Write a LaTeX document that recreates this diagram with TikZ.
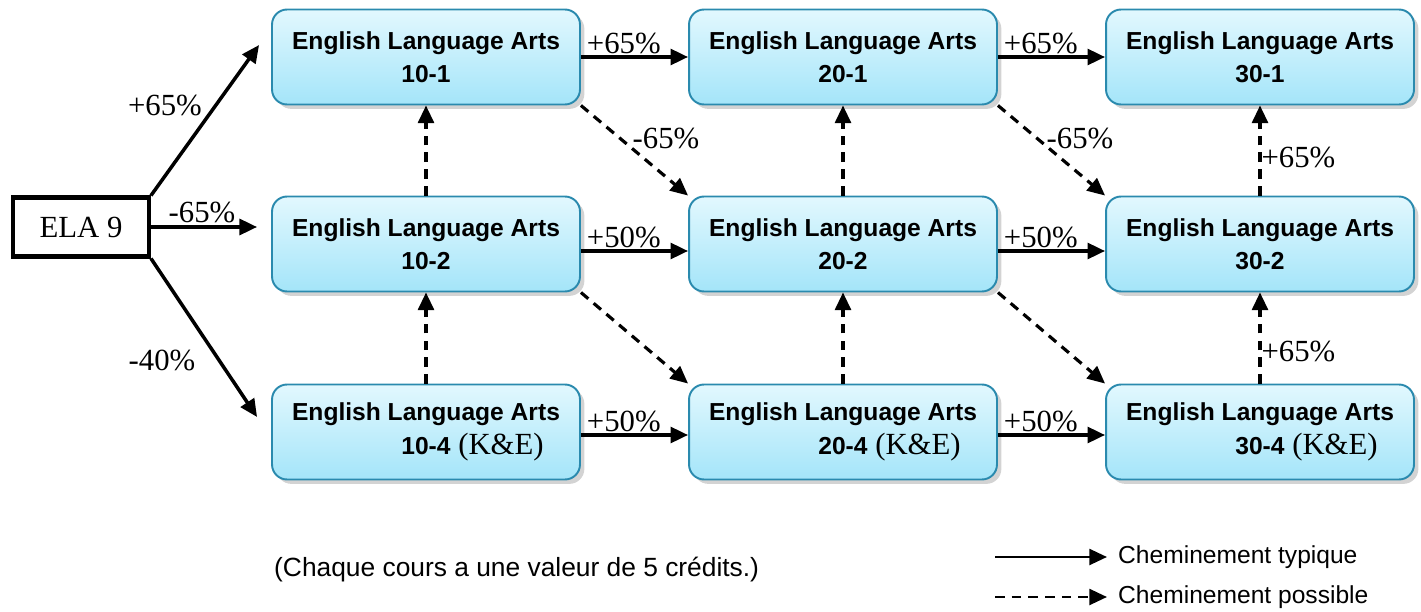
\documentclass[tikz,border=0pt]{standalone}
\usepackage{fontspec}
\setmainfont{Liberation Serif}
\setsansfont{Liberation Sans}
\usetikzlibrary{arrows.meta,shadows}
\definecolor{boxtop}{HTML}{E2F8FE}
\definecolor{boxbot}{HTML}{A4E5F9}
\definecolor{boxline}{HTML}{2A8AAE}
\newcommand{\ke}{\rlap{\rmfamily\mdseries\fontsize{17.5}{20}\selectfont\ (K\&E)}}
\begin{document}
\begin{tikzpicture}[x=0.02cm,y=-0.02cm,
	course/.style={draw=boxline, line width=1.1pt, rounded corners=0.3cm, top color=boxtop, bottom color=boxbot,
		minimum width=6.16cm, minimum height=1.9cm, align=center, font=\sffamily\bfseries\fontsize{14}{19}\selectfont,
		drop shadow={shadow xshift=2.5pt, shadow yshift=-2.5pt, opacity=0.35}},
	pct/.style={font=\rmfamily\fontsize{17.5}{20}\selectfont, inner sep=1pt},
	typ/.style={line width=2pt, -{Triangle[length=10pt,width=9pt]}},
	poss/.style={line width=1.8pt, dash pattern=on 5.5pt off 4pt, -{Triangle[length=10pt,width=9pt]}}]
	\useasboundingbox (0,0) rectangle (1421,612);
	\node[draw, line width=2.3pt, minimum width=2.72cm, minimum height=1.18cm, font=\rmfamily\fontsize{17.5}{20}\selectfont] (ela) at (81,227) {ELA 9};
	\node[course] (b101) at (426,57) {English Language Arts\\10-1};
	\node[course] (b201) at (843,57) {English Language Arts\\20-1};
	\node[course] (b301) at (1260,57) {English Language Arts\\30-1};
	\node[course] (b102) at (426,244) {English Language Arts\\10-2};
	\node[course] (b202) at (843,244) {English Language Arts\\20-2};
	\node[course] (b302) at (1260,244) {English Language Arts\\30-2};
	\node[course] (b104) at (426,432) {English Language Arts\\10-4\ke};
	\node[course] (b204) at (843,432) {English Language Arts\\20-4\ke};
	\node[course] (b304) at (1260,432) {English Language Arts\\30-4\ke};
	\draw[typ] (ela.north east) -- ([shift={(-12,-12)}]b101.west);
	\draw[typ, shorten >=0.28cm] (ela.east) -- (ela.east -| b102.west);
	\draw[typ] (ela.south east) -- ([shift={(-14,-15)}]b104.west);
	\node[pct] (l1) at (165,105) {+65\%};
	\node[pct] (l2) at (202,212) {-65\%};
	\node[pct] (l3) at (162,360) {-40\%};
	\draw[typ] (b101.east) -- node[pct, above, pos=0.4] (l4) {+65\%} (b201.west);
	\draw[typ] (b201.east) -- node[pct, above, pos=0.4] (l5) {+65\%} (b301.west);
	\draw[typ] ([yshift=-0.14cm]b102.east) -- node[pct, above, pos=0.4] (l6) {+50\%} ([yshift=-0.14cm]b202.west);
	\draw[typ] ([yshift=-0.14cm]b202.east) -- node[pct, above, pos=0.4] (l7) {+50\%} ([yshift=-0.14cm]b302.west);
	\draw[typ] ([yshift=-0.06cm]b104.east) -- node[pct, above, pos=0.4] (l8) {+50\%} ([yshift=-0.06cm]b204.west);
	\draw[typ] ([yshift=-0.06cm]b204.east) -- node[pct, above, pos=0.4] (l9) {+50\%} ([yshift=-0.06cm]b304.west);
	\draw[poss] (b101.south east) -- (b202.north west);
	\draw[poss] (b201.south east) -- (b302.north west);
	\draw[poss] (b102.south east) -- (b204.north west);
	\draw[poss] (b202.south east) -- (b304.north west);
	\node[pct] (l10) at (666,138) {-65\%};
	\node[pct] (l11) at (1080,138) {-65\%};
	\draw[poss] (b102.north) -- (b101.south);
	\draw[poss] (b104.north) -- (b102.south);
	\draw[poss] (b202.north) -- (b201.south);
	\draw[poss] (b204.north) -- (b202.south);
	\draw[poss] (b302.north) -- node[pct, right, pos=0.42, inner sep=0pt] (l12) {+65\%} (b301.south);
	\draw[poss] (b304.north) -- node[pct, right, pos=0.35, inner sep=0pt] (l13) {+65\%} (b302.south);
	\node[anchor=west, font=\sffamily\fontsize{15}{18}\selectfont] (note) at (268,570) {(Chaque cours a une valeur de 5 crédits.)};
	\node[anchor=west, font=\sffamily\fontsize{14}{17}\selectfont] (typtxt) at (1112,557) {Cheminement typique};
	\node[anchor=west, font=\sffamily\fontsize{14}{17}\selectfont] (posstxt) at (1112,597) {Cheminement possible};
	\coordinate (lt) at (995,557);
	\coordinate (lp) at (995,597);
	\draw[typ, line width=1.5pt, shorten >=0.1cm] (lt) -- (typtxt.west);
	\draw[poss, line width=1.5pt, shorten >=0.1cm] (lp) -- (posstxt.west);
\end{tikzpicture}
\end{document}
